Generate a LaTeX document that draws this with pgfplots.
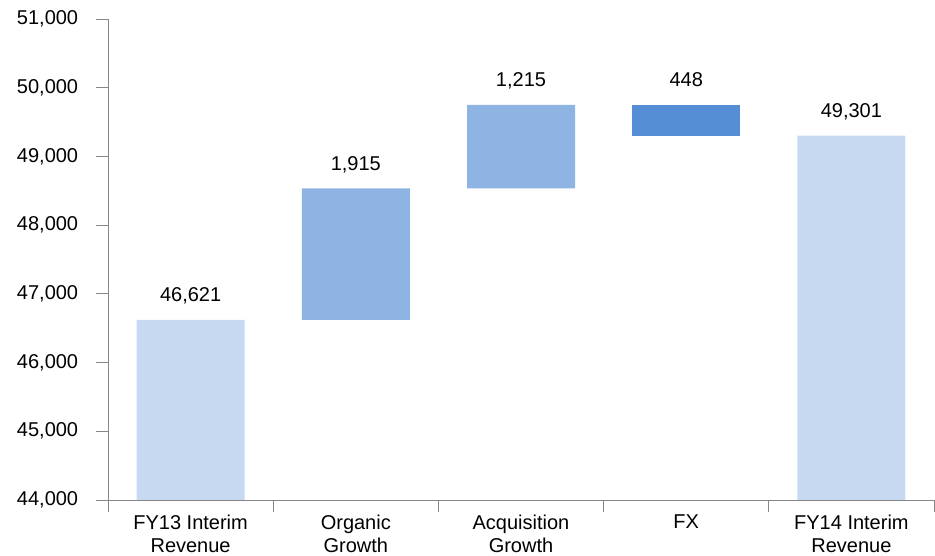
\documentclass[border=0pt]{standalone}
\usepackage{fontspec}
\setmainfont{Liberation Sans}
\usepackage{pgfplots}
\pgfplotsset{compat=1.18}
\definecolor{lightbar}{HTML}{C6D9F1}
\definecolor{midbar}{HTML}{8EB4E3}
\definecolor{darkbar}{HTML}{558ED5}
\definecolor{axisgray}{HTML}{868686}
\begin{document}
\fontsize{20bp}{24bp}\selectfont
\begin{tikzpicture}
\pgfplotsset{common/.style={scale only axis, width=826bp, height=481bp,
  xmin=-0.5, xmax=4.5, ymin=44000, ymax=51000}}
\begin{axis}[common, name=main, ybar stacked, bar width=108bp,
  axis x line=bottom, axis y line=left, axis line style={axisgray, -},
  tick align=outside, major tick length=12bp,
  tick style={axisgray, line width=0.8pt},
  ytick={44000,45000,...,51000},
  scaled y ticks=false,
  /pgf/number format/.cd, 1000 sep={,}, assume math mode=true, /pgfplots/.cd,
  yticklabel style={font=\fontsize{20bp}{24bp}\selectfont, text=black, xshift=-11bp},
  xtick={-0.5,0.5,1.5,2.5,3.5,4.5},
  xticklabels={{FY13 Interim\\Revenue},{Organic\\Growth},{Acquisition\\Growth},{FX},{FY14 Interim\\Revenue},{}},
  x tick label style={align=center, xshift=82.6bp, yshift=4bp, font=\fontsize{20bp}{23.5bp}\selectfont, text=black},
  axis line style={axisgray, line width=0.8pt},
  ]
\addplot[draw=none, fill=none, forget plot] coordinates {(0,0) (1,46621) (2,48536) (3,49303) (4,0)};
\addplot[draw=none, fill=lightbar] coordinates {(0,46621) (1,0) (2,0) (3,0) (4,49301)};
\addplot[draw=none, fill=midbar] coordinates {(0,0) (1,1915) (2,1215) (3,0) (4,0)};
\addplot[draw=none, fill=darkbar] coordinates {(0,0) (1,0) (2,0) (3,448) (4,0)};
\end{axis}
\begin{axis}[common, hide axis, clip=false]
\addplot[draw=none, mark=none, nodes near coords, point meta=explicit symbolic,
  nodes near coords style={anchor=base, yshift=18bp, inner sep=0pt, text=black, font=\fontsize{20bp}{24bp}\selectfont}]
  coordinates {(0,46621)[46,621] (1,48536)[1,915] (2,49751)[1,215] (3,49751)[448] (4,49301)[49,301]};
\end{axis}
\pgfresetboundingbox
\path ([xshift=-108bp,yshift=-56bp]main.south west) rectangle ([xshift=1bp,yshift=19bp]main.north east);
\end{tikzpicture}
\end{document}
